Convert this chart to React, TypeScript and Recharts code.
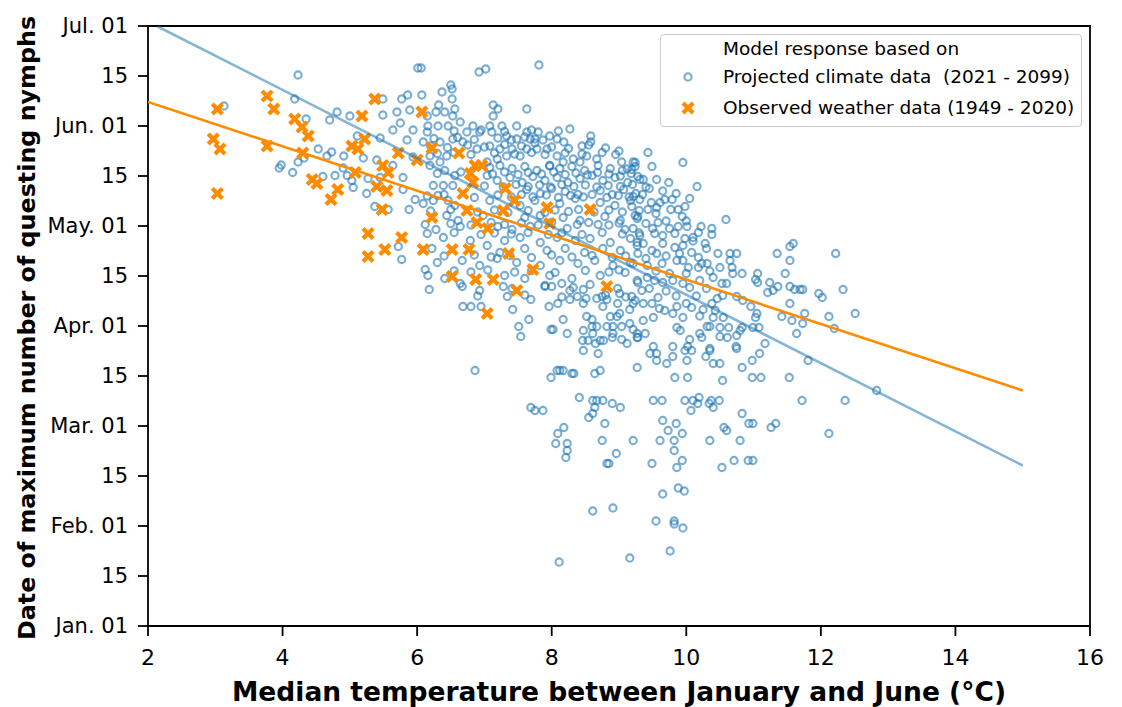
import React from "react";
import { ScatterChart, Scatter, XAxis, YAxis, ReferenceArea } from "recharts";

type Pt = [number, number];

// x: median Jan–Jun temperature (°C); y: date index in half-months (0 = Jan. 01, 12 = Jul. 01)
const tempTicks = [2, 4, 6, 8, 10, 12, 14, 16];
const dateTicks = [0, 1, 2, 3, 4, 5, 6, 7, 8, 9, 10, 11, 12];
const dateLabels = [
  "Jan. 01", "15", "Feb. 01", "15", "Mar. 01", "15", "Apr. 01",
  "15", "May. 01", "15", "Jun. 01", "15", "Jul. 01",
];

const projectedCold: Pt[] = [
  [4.23, 11.02], [3.13, 10.4], [4.18, 10.54], [4.35, 10.14], [4.7, 10.12], [4.81, 10.28],
  [5.0, 10.2], [5.49, 10.22], [5.49, 10.54], [5.77, 10.54], [5.86, 10.62], [6.01, 11.16],
  [5.89, 10.32], [5.7, 10.28], [5.64, 9.92], [5.75, 10.06], [5.45, 9.76], [5.11, 9.8],
  [4.53, 9.54], [4.73, 9.48], [4.91, 9.4], [4.66, 9.4], [5.2, 9.36], [3.95, 9.16],
  [3.98, 9.22], [4.15, 9.07], [4.23, 9.28], [4.32, 9.36], [4.9, 9.16], [4.78, 9.01],
  [4.96, 9.01], [4.6, 8.99], [5.05, 8.77], [5.27, 8.95], [5.45, 8.97], [5.64, 9.21],
  [5.79, 8.97], [5.94, 9.38], [5.85, 9.72], [5.94, 9.92], [5.4, 9.32], [5.25, 8.65],
  [5.37, 8.39], [5.57, 8.33], [5.88, 8.33], [5.79, 8.73], [5.97, 8.53], [5.72, 7.59],
  [5.77, 7.33], [5.03, 8.91],
];

const projectedTop: Pt[] = [
  [7.81, 11.22], [6.92, 11.08], [7.02, 11.14], [6.06, 11.16], [6.5, 10.82], [6.37, 10.68],
  [6.52, 10.74], [6.52, 10.54], [6.07, 10.62], [7.13, 10.42], [7.2, 10.34], [7.13, 10.2],
  [7.63, 10.34], [6.32, 10.42], [6.41, 10.28], [6.56, 10.34], [6.28, 10.28], [6.15, 10.2],
  [6.53, 10.2], [8.27, 9.94], [8.58, 9.8], [8.58, 9.68], [8.45, 9.6], [8.18, 9.68],
  [7.97, 9.8], [7.8, 9.88], [7.63, 9.88], [7.48, 10.0], [7.26, 10.0], [7.08, 10.0],
  [6.83, 10.0], [6.64, 10.08], [6.46, 10.0], [6.31, 10.0], [6.16, 10.0], [6.74, 9.88],
  [6.93, 9.88], [7.11, 9.88], [7.33, 9.8], [7.48, 9.74], [7.68, 9.74], [7.87, 9.72],
  [8.08, 9.74], [7.93, 9.54], [8.08, 9.4], [8.32, 9.34], [8.52, 9.4], [8.67, 9.34],
  [9.04, 9.28], [9.21, 9.28], [9.12, 9.14], [6.34, 9.68], [6.53, 9.74], [6.68, 9.68],
  [6.89, 9.54], [7.08, 9.6], [7.23, 9.54], [7.41, 9.54], [7.63, 9.54], [7.78, 9.54],
  [7.53, 9.4], [7.33, 9.4], [7.19, 9.34], [7.04, 9.28], [6.44, 9.4], [6.19, 9.4],
  [6.34, 9.28], [7.97, 9.2], [8.17, 9.28], [8.42, 9.28], [6.15, 9.88], [6.09, 9.68],
  [6.25, 9.75], [6.6, 9.77], [6.85, 9.73], [7.2, 9.76], [7.4, 9.72], [7.6, 9.78],
  [7.75, 9.74], [6.3, 9.45], [6.55, 9.47], [6.8, 9.43], [7.15, 9.46], [7.45, 9.44],
  [7.7, 9.47], [7.9, 9.43], [8.2, 9.46], [8.45, 9.44], [8.75, 9.47], [8.95, 9.43],
  [6.55, 9.9], [6.95, 9.92], [7.3, 9.89], [7.7, 9.92], [8.1, 9.9],
];

const projectedCore: Pt[] = [
  [7.08, 9.17], [7.23, 9.21], [7.41, 9.15], [7.6, 9.19], [7.78, 9.11], [7.97, 9.21],
  [8.12, 9.15], [8.3, 9.19], [8.49, 9.11], [8.69, 9.21], [8.87, 9.15], [9.05, 9.11],
  [9.24, 9.19], [7.04, 9.01], [7.19, 8.91], [7.38, 8.97], [7.56, 8.87], [7.72, 8.99],
  [7.9, 8.91], [8.08, 8.97], [8.24, 8.87], [8.42, 8.95], [8.6, 9.01], [8.76, 8.91],
  [8.94, 8.97], [9.13, 8.87], [9.28, 8.99], [6.24, 8.81], [6.39, 8.81], [6.53, 8.81],
  [6.19, 9.21], [6.41, 9.11], [6.56, 9.01], [6.31, 8.61], [6.46, 8.51],
  [7.63, 8.73], [7.83, 8.65], [8.0, 8.75], [8.2, 8.69], [8.39, 8.63], [8.72, 8.71],
  [8.9, 8.63], [9.07, 8.73], [9.25, 8.65], [6.09, 8.45], [6.24, 8.51], [6.56, 8.41],
  [7.08, 8.51], [7.53, 8.41], [7.75, 8.51], [8.12, 8.45], [8.35, 8.55], [8.72, 8.47],
  [8.94, 8.41], [9.17, 8.51], [6.44, 8.21], [6.61, 8.11], [6.98, 8.21], [7.6, 8.17],
  [7.83, 8.21], [8.17, 8.17], [8.42, 8.11], [8.79, 8.19], [9.02, 8.11], [9.24, 8.21],
  [6.12, 8.03], [6.28, 7.93], [6.64, 7.99], [7.2, 7.99], [7.41, 7.93], [7.68, 7.99],
  [8.23, 7.95], [8.69, 8.03], [9.09, 7.93], [6.39, 7.77], [6.79, 7.71], [7.3, 7.71],
  [7.53, 7.77], [7.83, 7.67], [8.08, 7.77], [8.35, 7.71], [8.57, 7.75], [8.87, 7.67],
  [9.17, 7.75], [6.22, 7.55], [7.04, 7.61], [7.23, 7.47], [7.6, 7.55], [7.93, 7.51],
  [8.2, 7.55], [8.49, 7.47], [8.76, 7.55], [9.02, 7.51], [9.27, 7.61], [6.3, 7.27],
  [6.67, 7.31], [6.93, 7.21], [7.19, 7.35], [7.48, 7.27], [7.83, 7.21], [8.12, 7.31],
  [8.39, 7.25], [8.64, 7.31], [8.91, 7.21], [9.17, 7.27], [6.12, 7.13], [6.16, 7.01],
  [6.41, 6.95], [7.3, 7.01], [7.6, 6.95], [7.97, 7.01], [8.3, 6.95], [8.72, 7.01],
  [9.09, 7.07], [6.67, 6.79], [6.93, 6.71], [7.41, 6.75], [7.9, 6.81], [8.27, 6.71],
  [8.57, 6.83], [8.98, 6.75], [9.28, 6.87],
];

// second, denser layer of the central cloud
const projectedDense: Pt[] = [
  [6.2, 9.6], [6.45, 9.57], [6.75, 9.62], [7.0, 9.58], [7.3, 9.63], [7.55, 9.6],
  [7.75, 9.66], [8.0, 9.58], [8.25, 9.55], [8.55, 9.62], [8.8, 9.56], [9.0, 9.5],
  [6.3, 9.05], [6.65, 9.08], [7.12, 9.04], [7.3, 9.08], [7.5, 9.03], [7.65, 9.07],
  [7.85, 9.04], [8.03, 9.08], [8.2, 9.03], [8.36, 9.06], [8.53, 9.02], [8.68, 9.07],
  [8.85, 9.04], [9.02, 9.0], [9.18, 9.05],
  [7.0, 8.8], [7.28, 8.78], [7.47, 8.83], [7.65, 8.79], [7.82, 8.82], [7.98, 8.78],
  [8.15, 8.83], [8.33, 8.79], [8.5, 8.82], [8.67, 8.78], [8.84, 8.81], [9.02, 8.79],
  [9.2, 8.83], [9.4, 8.78],
  [6.15, 8.6], [6.4, 8.63], [6.85, 8.57], [7.2, 8.62], [7.4, 8.58], [7.55, 8.63],
  [7.72, 8.58], [7.92, 8.62], [8.1, 8.57], [8.28, 8.61], [8.47, 8.58], [8.6, 8.63],
  [8.82, 8.57], [8.99, 8.61], [9.15, 8.58], [9.35, 8.63],
  [6.2, 8.3], [6.5, 8.33], [6.9, 8.28], [7.15, 8.32], [7.35, 8.27], [7.65, 8.31],
  [7.9, 8.27], [8.05, 8.32], [8.25, 8.29], [8.4, 8.33], [8.63, 8.28], [8.85, 8.32],
  [9.05, 8.28], [9.3, 8.31],
  [6.5, 8.05], [6.8, 8.02], [7.1, 8.07], [7.3, 8.03], [7.55, 8.06], [7.8, 8.02],
  [8.0, 8.07], [8.38, 8.03], [8.55, 8.07], [8.85, 8.02], [9.0, 8.06],
  [6.15, 7.85], [6.55, 7.87], [6.95, 7.83], [7.15, 7.86], [7.4, 7.84], [7.65, 7.87],
  [7.95, 7.83], [8.15, 7.86], [8.45, 7.83], [8.75, 7.87], [9.05, 7.84], [9.3, 7.86],
  [6.4, 7.4], [6.85, 7.42], [7.1, 7.38], [7.38, 7.41], [7.7, 7.37], [8.0, 7.42],
  [8.3, 7.38], [8.6, 7.41], [8.9, 7.37], [9.1, 7.4],
  [6.55, 7.1], [6.8, 7.08], [7.05, 7.12], [7.45, 7.08], [7.7, 7.11], [8.05, 7.07],
  [8.5, 7.11], [8.85, 7.08], [9.0, 7.12],
  [6.9, 6.6], [7.6, 6.62], [8.15, 6.58], [8.8, 6.62], [9.1, 6.58],
  [9.45, 8.75], [9.65, 8.7], [9.85, 8.65], [10.05, 8.55], [9.4, 8.05], [9.7, 8.1],
  [10.0, 8.1], [9.5, 7.95], [9.75, 7.95], [10.1, 7.7], [9.4, 7.35], [9.7, 7.4],
  [9.9, 7.45], [10.3, 7.55], [9.55, 7.1], [9.75, 7.05], [10.0, 7.05], [10.35, 7.1],
  [9.45, 6.75], [9.7, 6.7], [9.85, 6.6], [10.15, 6.6], [10.3, 6.75], [9.6, 6.35],
  [10.0, 6.45], [10.2, 6.2],
];

const projectedWarm: Pt[] = [
  [6.18, 6.73], [6.68, 6.39], [6.8, 6.39], [6.95, 6.39], [6.64, 6.85], [7.28, 6.79],
  [7.34, 6.59], [7.42, 6.33], [7.69, 6.53], [7.66, 6.13], [7.51, 5.99], [7.54, 5.79],
  [7.9, 6.79], [8.0, 6.79], [8.15, 6.85], [8.32, 6.77], [8.47, 6.73], [7.96, 6.39],
  [8.09, 6.45], [8.27, 6.53], [8.38, 6.59], [8.47, 6.45], [8.51, 6.55], [8.67, 6.55],
  [8.75, 6.59], [8.82, 6.53], [8.76, 6.39], [8.98, 6.45], [9.01, 6.65], [9.19, 6.59],
  [9.21, 6.45], [9.16, 6.33], [9.01, 6.25], [8.97, 6.19], [8.87, 6.19], [8.52, 6.19],
  [8.6, 6.13], [8.6, 5.99], [8.67, 5.99], [8.82, 5.99], [8.91, 5.99], [9.04, 5.99],
  [9.16, 6.05], [9.21, 5.93], [8.17, 6.13], [7.99, 5.93], [8.02, 5.93], [8.23, 5.85],
  [8.47, 5.91], [8.61, 5.85], [8.91, 5.85], [8.9, 5.77], [9.04, 5.73], [9.12, 5.65],
  [8.46, 5.71], [8.54, 5.71], [8.65, 5.65], [8.72, 5.71], [8.77, 5.71], [8.47, 5.51],
  [8.69, 5.45], [9.27, 5.77], [9.27, 5.17], [8.72, 5.11], [8.64, 5.05], [8.3, 5.05],
  [8.33, 5.05], [8.08, 5.11], [8.12, 5.11], [8.17, 5.11], [7.99, 4.97], [6.86, 5.11],
  [9.43, 9.47], [9.24, 9.27], [9.49, 9.19], [9.95, 9.27], [9.31, 8.93], [9.36, 8.93],
  [9.56, 8.93], [9.74, 8.87], [10.16, 8.79], [9.19, 9.13], [9.21, 8.59], [9.31, 8.53],
  [9.48, 8.47], [9.61, 8.47], [9.68, 8.53], [9.79, 8.53], [9.56, 8.37], [9.43, 8.33],
  [9.77, 8.33], [9.88, 8.33], [9.98, 8.39], [9.19, 8.39], [9.28, 8.19], [9.55, 8.25],
  [9.94, 8.19], [10.59, 8.13], [9.58, 8.07], [9.27, 8.15],
  [9.88, 7.99], [10.01, 7.99], [10.22, 7.99], [10.38, 7.95], [10.38, 7.83], [9.21, 7.95],
  [9.31, 7.81], [9.53, 7.85], [9.65, 7.81], [9.83, 7.85], [9.98, 7.75], [10.1, 7.77],
  [10.18, 7.87], [10.28, 7.65], [9.27, 7.67], [9.36, 7.65], [9.49, 7.51], [9.65, 7.65],
  [9.83, 7.57], [9.95, 7.61], [10.08, 7.47], [10.18, 7.37], [9.56, 7.45], [9.28, 7.45],
  [10.47, 7.45], [10.65, 7.45], [10.75, 7.45], [11.35, 7.45], [11.59, 7.65], [11.54, 7.59],
  [12.22, 7.45], [11.54, 7.31], [9.21, 7.25], [9.42, 7.21], [9.64, 7.25], [9.86, 7.31],
  [9.95, 7.31], [10.03, 7.17], [10.18, 7.17], [10.23, 7.25], [10.31, 7.25], [10.5, 7.17],
  [10.65, 7.31], [10.68, 7.17], [10.69, 7.05], [10.83, 7.05], [11.06, 7.05], [11.03, 6.93],
  [11.06, 6.87], [11.47, 7.05], [11.24, 6.87], [11.36, 6.79], [11.21, 6.67], [11.29, 6.71],
  [11.54, 6.79], [11.61, 6.73], [11.69, 6.73], [11.73, 6.73], [11.97, 6.65], [12.02, 6.57],
  [12.33, 6.73], [12.51, 6.25], [12.12, 6.19], [12.2, 5.95], [11.76, 6.25], [11.73, 6.05],
  [11.57, 6.11], [11.64, 5.85], [11.54, 6.45], [11.42, 6.19], [11.05, 6.25], [11.03, 6.17],
  [11.08, 5.97], [10.99, 5.97], [10.96, 6.39], [10.83, 5.97], [10.8, 5.91], [10.84, 6.51],
  [10.75, 6.59], [10.54, 6.61], [10.46, 6.55], [10.6, 6.85], [10.53, 6.85], [10.4, 6.97],
  [10.2, 6.91], [10.05, 6.77], [9.95, 6.85], [9.8, 6.91], [9.65, 6.87], [9.53, 6.91],
  [9.42, 6.97], [9.27, 6.91], [9.34, 6.71], [9.24, 6.51], [9.36, 6.45], [9.49, 6.45],
  [9.58, 6.57], [9.68, 6.31], [9.8, 6.25], [9.95, 6.17], [9.86, 6.39], [10.08, 6.37],
  [10.25, 6.33], [10.38, 6.45], [10.43, 6.31], [10.4, 6.17], [10.55, 6.17], [10.63, 5.97],
  [10.5, 5.97], [10.31, 5.99], [10.35, 5.99], [10.2, 5.85], [10.23, 5.77], [10.5, 5.79],
  [10.61, 5.77], [10.75, 5.81], [9.86, 5.97], [9.91, 5.91], [9.51, 6.17], [9.36, 6.11],
  [9.27, 5.85], [9.39, 5.85], [9.28, 5.77], [9.51, 5.59], [10.05, 5.73], [9.8, 5.59],
  [10.35, 5.55], [10.75, 5.55], [11.17, 5.65],
];

const projectedTail: Pt[] = [
  [8.41, 4.57], [8.61, 4.51], [8.67, 4.51], [8.76, 4.51], [8.64, 4.37], [8.9, 4.45],
  [9.02, 4.37], [7.69, 4.37], [7.75, 4.31], [7.87, 4.31], [8.61, 4.25], [8.55, 4.17],
  [8.79, 4.05], [8.18, 3.97], [8.09, 3.85], [8.06, 3.65], [8.23, 3.65], [8.23, 3.51],
  [8.21, 3.37], [8.75, 3.71], [9.21, 3.71], [8.96, 3.45], [8.82, 3.25], [8.85, 3.25],
  [8.61, 2.3], [8.91, 2.36], [8.11, 1.28], [9.16, 1.36],
  [9.46, 5.45], [9.56, 5.45], [9.56, 5.31], [9.71, 5.25], [9.8, 5.39], [9.98, 5.51],
  [10.08, 5.51], [10.02, 5.59], [10.01, 5.31], [10.29, 5.39], [10.35, 5.51], [10.4, 5.25],
  [10.5, 5.25], [10.74, 5.59], [10.83, 5.17], [10.98, 5.31], [11.09, 5.45], [9.83, 4.97],
  [10.02, 4.97], [10.54, 4.91], [10.98, 4.97], [11.11, 4.97], [11.53, 4.97], [11.81, 5.31],
  [9.51, 4.51], [9.64, 4.51], [9.98, 4.51], [10.1, 4.51], [10.19, 4.57], [10.17, 4.45],
  [10.34, 4.45], [10.4, 4.37], [10.37, 4.51], [10.49, 4.51], [10.07, 4.31], [10.83, 4.25],
  [11.72, 4.51], [12.36, 4.51], [12.83, 4.71], [9.65, 4.11], [9.85, 4.05], [9.73, 3.91],
  [9.94, 3.85], [10.56, 3.97], [10.6, 3.91], [10.93, 4.05], [10.99, 4.05], [11.26, 3.97],
  [11.33, 4.05], [12.12, 3.85], [9.61, 3.71], [9.82, 3.71], [10.35, 3.71], [10.8, 3.71],
  [9.82, 3.51], [9.94, 3.31], [9.49, 3.25], [9.86, 3.17], [10.53, 3.17], [10.71, 3.31],
  [10.92, 3.31], [10.99, 3.31], [9.88, 2.76], [9.97, 2.7], [9.65, 2.64], [9.55, 2.1],
  [9.82, 2.1], [9.82, 2.04], [9.95, 1.96], [9.76, 1.5],
];

const observedWeather: Pt[] = [
  [3.03, 10.34], [3.77, 10.6], [3.87, 10.34], [2.97, 9.74], [3.07, 9.54], [3.03, 8.65],
  [3.77, 9.6], [4.18, 10.14], [4.29, 9.98], [4.38, 9.8], [4.3, 9.46], [4.44, 8.93],
  [4.51, 8.85], [4.82, 8.73], [4.72, 8.53], [5.18, 10.2], [5.37, 10.54], [5.22, 9.74],
  [5.03, 9.6], [5.12, 9.54], [5.08, 9.07], [5.49, 9.21], [5.57, 9.07], [5.4, 8.79],
  [5.55, 8.71], [5.48, 8.33], [5.27, 7.85], [5.77, 7.77], [5.52, 7.53], [5.27, 7.39],
  [5.72, 9.46], [6.0, 9.32], [6.07, 10.28], [6.22, 8.17], [6.09, 7.53], [6.52, 7.53],
  [6.77, 7.53], [6.52, 6.99], [6.87, 6.93], [7.13, 6.93], [7.04, 6.25], [6.86, 9.21],
  [6.96, 9.21], [6.79, 9.05], [6.83, 8.87], [6.68, 8.65], [6.74, 8.31], [6.89, 8.07],
  [7.05, 7.95], [7.31, 8.75], [7.45, 8.51], [7.28, 8.31], [7.93, 8.37], [8.57, 8.33],
  [7.97, 8.05], [7.36, 7.45], [7.72, 7.13], [7.48, 6.71], [8.82, 6.79], [6.22, 9.56],
  [6.62, 9.46],
];

// regression lines (end points)
const projectedFit: Pt[] = [[2.13, 12], [15, 3.21]];
const observedFit: Pt[] = [[2, 10.48], [15, 4.71]];

const toRows = (pts: Pt[]) => pts.map(([t, d]) => ({ t, d }));
const projectedAll = toRows([
  ...projectedCold, ...projectedTop, ...projectedCore, ...projectedDense,
  ...projectedWarm, ...projectedTail,
]);

const FONT = "'DejaVu Sans', sans-serif";
const BLUE = "#1f77b4";
const ORANGE = "#ff8c00";

const Ring = (p: any) => (
  <circle cx={p.cx} cy={p.cy} r={3.6} fill="none" stroke={BLUE} strokeOpacity={0.6} strokeWidth={2.1} />
);

const Cross = (p: any) => (
  <g transform={`translate(${p.cx},${p.cy}) rotate(45)`} fill={ORANGE}>
    <rect x={-7.2} y={-2.1} width={14.4} height={4.2} />
    <rect x={-2.1} y={-7.2} width={4.2} height={14.4} />
  </g>
);

const NoDot = () => <g />;

function LegendBox() {
  const row: React.CSSProperties = {
    position: "absolute", left: 62, fontSize: 18.5, lineHeight: "22px", whiteSpace: "nowrap",
  };
  return (
    <div
      style={{
        position: "absolute", left: 652, top: 26, width: 420, height: 91,
        border: "1px solid #cccccc", borderRadius: 4, background: "rgba(255,255,255,0.8)",
        fontFamily: FONT, color: "#000",
      }}
    >
      <div style={{ ...row, top: 3 }}>Model response based on</div>
      <svg style={{ position: "absolute", left: 19, top: 34 }} width={16} height={16}>
        <circle cx={8} cy={8} r={3.6} fill="none" stroke={BLUE} strokeOpacity={0.6} strokeWidth={2.1} />
      </svg>
      <div style={{ ...row, top: 31 }}>Projected climate data&nbsp; (2021 - 2099)</div>
      <svg style={{ position: "absolute", left: 16, top: 62 }} width={22} height={22}>
        <Cross cx={11} cy={11} />
      </svg>
      <div style={{ ...row, top: 62 }}>Observed weather data (1949 - 2020)</div>
    </div>
  );
}

export default function App() {
  return (
    <div style={{ position: "relative", width: 1106, height: 699, background: "#fff" }}>
      <ScatterChart width={1106} height={699} margin={{ top: 18, right: 24, bottom: 0, left: 0 }}>
        <XAxis
          type="number"
          dataKey="t"
          domain={[2, 16]}
          ticks={tempTicks}
          allowDataOverflow
          height={81}
          axisLine={false}
          tickLine={{ stroke: "#000", strokeWidth: 1.8 }}
          tickSize={10}
          tickMargin={13}
          tick={{ fill: "#000", fontSize: 22, fontFamily: FONT }}
          label={{
            content: () => (
              <text x={611} y={693} textAnchor="middle" fontFamily={FONT} fontWeight="bold" fontSize={26.5} fill="#000">
                Median temperature between January and June (°C)
              </text>
            ),
          }}
        />
        <YAxis
          type="number"
          dataKey="d"
          domain={[0, 12]}
          ticks={dateTicks}
          allowDataOverflow
          width={140}
          axisLine={false}
          tickLine={{ stroke: "#000", strokeWidth: 1.8 }}
          tickSize={10}
          tickMargin={10}
          tickFormatter={(v: number) => dateLabels[v]}
          tick={{ fill: "#000", fontSize: 21, fontFamily: FONT }}
          label={{
            content: () => (
              <text
                x={19}
                y={320}
                transform="rotate(-90 19 320)"
                textAnchor="middle"
                dominantBaseline="central"
                fontFamily={FONT}
                fontWeight="bold"
                fontSize={23.8}
                fill="#000"
              >
                Date of maximum number of questing nymphs
              </text>
            ),
          }}
        />
        <Scatter data={projectedAll} shape={Ring} isAnimationActive={false} />
        <Scatter data={toRows(observedWeather)} shape={Cross} isAnimationActive={false} />
        <Scatter
          data={toRows(projectedFit)}
          shape={NoDot}
          line={{ stroke: BLUE, strokeOpacity: 0.55, strokeWidth: 2.6 }}
          isAnimationActive={false}
        />
        <Scatter
          data={toRows(observedFit)}
          shape={NoDot}
          line={{ stroke: ORANGE, strokeWidth: 2.6 }}
          isAnimationActive={false}
        />
        <ReferenceArea x1={2} x2={16} y1={0} y2={12} fill="none" stroke="#000" strokeWidth={1.8} ifOverflow="visible" />
      </ScatterChart>
      <LegendBox />
    </div>
  );
}
